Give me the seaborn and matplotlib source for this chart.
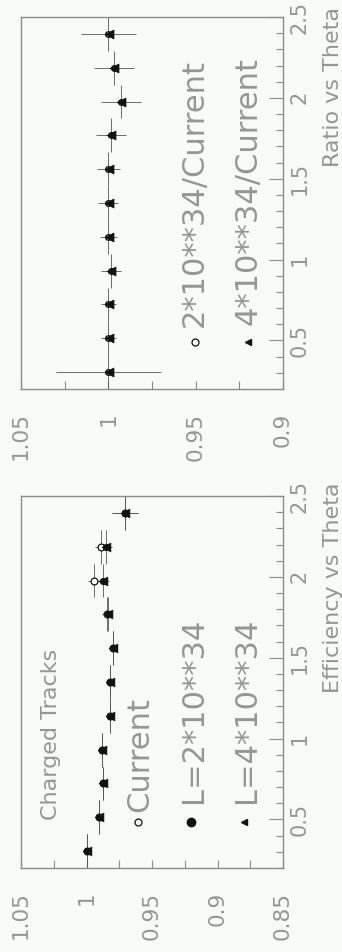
import numpy as np
import pandas as pd
import matplotlib
matplotlib.use("Agg")
import matplotlib.pyplot as plt
import seaborn as sns
from matplotlib.ticker import MultipleLocator

# ---------------- data ----------------
theta = [0.305, 0.514, 0.723, 0.932, 1.141, 1.350, 1.559, 1.768, 1.977, 2.186, 2.395]
theta_half = [0.1045] * 11

eff_current = [0.9996, 0.9905, 0.9874, 0.9880, 0.9820, 0.9820, 0.9798, 0.9845, 0.9943, 0.9890, 0.9706]
eff_L2 = [0.9996, 0.9905, 0.9874, 0.9878, 0.9820, 0.9820, 0.9798, 0.9836, 0.9874, 0.9852, 0.9706]
eff_L4 = [0.9996, 0.9904, 0.9873, 0.9878, 0.9819, 0.9819, 0.9797, 0.9835, 0.9872, 0.9850, 0.9705]
eff_err = [0.0030, 0.0025, 0.0025, 0.0025, 0.0025, 0.0025, 0.0030, 0.0035, 0.0045, 0.0045, 0.0100]

ratio_2 = [1.0000, 1.0000, 1.0000, 0.9985, 1.0000, 1.0000, 1.0000, 0.9985, 0.9928, 0.9968, 1.0000]
ratio_4 = [0.9998, 0.9999, 0.9999, 0.9984, 0.9999, 0.9999, 0.9999, 0.9984, 0.9927, 0.9967, 0.9999]
ratio_err = [0.0300, 0.0042, 0.0043, 0.0057, 0.0050, 0.0057, 0.0067, 0.0086, 0.0115, 0.0115, 0.0157]

theta_ticks = [0.5, 1.0, 1.5, 2.0, 2.5]
theta_labels = ["0.5", "1", "1.5", "2", "2.5"]
eff_ticks = [1.05, 1.0, 0.95, 0.9, 0.85]
eff_labels = ["1.05", "1", "0.95", "0.9", "0.85"]
ratio_ticks = [1.05, 1.0, 0.95, 0.9]
ratio_labels = ["1.05", "1", "0.95", "0.9"]

eff_df = pd.DataFrame({"theta": theta, "Current": eff_current,
                       "L2": eff_L2, "L4": eff_L4})
ratio_df = pd.DataFrame({"theta": theta, "R2": ratio_2, "R4": ratio_4})

# ---------------- style ----------------
sns.set_theme(style="white")
plt.rcParams["font.family"] = ["DejaVu Sans"]
BG = "#f7faf6"
GREY = "#8c8c8c"
TXT = "#959595"
INK = "#111111"
ERR = "#555555"

fig = plt.figure(figsize=(3.42, 9.52), dpi=100, facecolor=BG)
W, H = 342.0, 952.0
ax_r = fig.add_axes([21 / W, 1 - 389 / H, 262 / W, 372 / H])
ax_e = fig.add_axes([21 / W, 1 - 868 / H, 262 / W, 372 / H])


def style_axes(ax, xlim, xt, xl):
    ax.set_facecolor(BG)
    for s in ax.spines.values():
        s.set_color(GREY)
        s.set_linewidth(1.0)
    ax.set_xlim(*xlim)
    ax.set_ylim(0.2, 2.5)
    ax.yaxis.tick_right()
    ax.set_yticks(theta_ticks, theta_labels, rotation=90, va="center", ha="left")
    ax.yaxis.set_minor_locator(MultipleLocator(0.1))
    ax.set_xticks(xt, xl, rotation=90, ha="center", va="top")
    ax.xaxis.set_minor_locator(MultipleLocator(0.025))
    ax.tick_params(axis="y", which="major", direction="in", length=10, width=0.8,
                   color=GREY, right=True, left=False, labelright=True,
                   labelleft=False, pad=5, labelsize=15, labelcolor=TXT)
    ax.tick_params(axis="y", which="minor", direction="in", length=5, width=0.8,
                   color=GREY, right=True, left=False)
    ax.tick_params(axis="x", which="both", direction="in", length=6, width=0.8,
                   color=GREY, bottom=True, top=False)
    ax.tick_params(axis="x", which="major", pad=17, labelsize=15.5, labelcolor=TXT)
    ax.set_xlabel("")
    ax.set_ylabel("")


# ---------------- ratio panel ----------------
style_axes(ax_r, (1.05, 0.9), ratio_ticks, ratio_labels)
ax_r.errorbar(ratio_df["R2"], ratio_df["theta"], xerr=ratio_err, yerr=theta_half,
              fmt="none", ecolor=ERR, elinewidth=0.6, capsize=0)
sns.scatterplot(data=ratio_df, x="R2", y="theta", ax=ax_r, marker="o", s=16,
                facecolor="white", edgecolor=INK, linewidth=1.0, zorder=3)
sns.scatterplot(data=ratio_df, x="R4", y="theta", ax=ax_r, marker="<", s=42,
                color=INK, edgecolor=INK, linewidth=0.5, zorder=4)
ax_r.set_xlabel("")
ax_r.set_ylabel("")

ax_r.plot([0.664], [0.126], marker="o", ms=5, mfc="white", mec=INK, mew=0.9,
          transform=ax_r.transAxes, clip_on=False)
ax_r.plot([0.866], [0.126], marker="<", ms=5, color=INK,
          transform=ax_r.transAxes, clip_on=False)
ax_r.text(0.695, 0.166, "2*10**34/Current", rotation=90, rotation_mode="anchor",
          ha="left", va="baseline", fontsize=22, color=TXT, transform=ax_r.transAxes)
ax_r.text(0.901, 0.171, "4*10**34/Current", rotation=90, rotation_mode="anchor",
          ha="left", va="baseline", fontsize=22, color=TXT, transform=ax_r.transAxes)
ax_r.text(1.19, 1.027, "Ratio vs Theta", rotation=90, ha="center", va="top",
          fontsize=16, color=TXT, transform=ax_r.transAxes, clip_on=False)

# ---------------- efficiency panel ----------------
style_axes(ax_e, (1.05, 0.85), eff_ticks, eff_labels)
ax_e.errorbar(eff_df["Current"], eff_df["theta"], xerr=eff_err, yerr=theta_half,
              fmt="none", ecolor=ERR, elinewidth=0.6, capsize=0)
ax_e.errorbar(eff_df["L2"], eff_df["theta"], xerr=eff_err, yerr=theta_half,
              fmt="none", ecolor=ERR, elinewidth=0.6, capsize=0)
sns.scatterplot(data=eff_df, x="Current", y="theta", ax=ax_e, marker="o", s=24,
                facecolor="white", edgecolor=INK, linewidth=0.9, zorder=3)
sns.scatterplot(data=eff_df, x="L2", y="theta", ax=ax_e, marker="o", s=22,
                color=INK, edgecolor=INK, linewidth=0.5, zorder=4)
sns.scatterplot(data=eff_df, x="L4", y="theta", ax=ax_e, marker="<", s=40,
                color=INK, edgecolor=INK, linewidth=0.5, zorder=5)
ax_e.set_xlabel("")
ax_e.set_ylabel("")

ax_e.text(0.137, 0.129, "Charged Tracks", rotation=90, rotation_mode="anchor",
          ha="left", va="baseline", fontsize=16, color=TXT, transform=ax_e.transAxes)
ax_e.plot([0.447], [0.124], marker="o", ms=5, mfc="white", mec=INK, mew=0.9,
          transform=ax_e.transAxes, clip_on=False)
ax_e.plot([0.649], [0.124], marker="o", ms=6, color=INK,
          transform=ax_e.transAxes, clip_on=False)
ax_e.plot([0.851], [0.124], marker="<", ms=5, color=INK,
          transform=ax_e.transAxes, clip_on=False)
ax_e.text(0.485, 0.150, "Current", rotation=90, rotation_mode="anchor",
          ha="left", va="baseline", fontsize=22, color=TXT, transform=ax_e.transAxes)
ax_e.text(0.691, 0.175, "L=2*10**34", rotation=90, rotation_mode="anchor",
          ha="left", va="baseline", fontsize=22, color=TXT, transform=ax_e.transAxes)
ax_e.text(0.893, 0.175, "L=4*10**34", rotation=90, rotation_mode="anchor",
          ha="left", va="baseline", fontsize=22, color=TXT, transform=ax_e.transAxes)
ax_e.text(1.19, 1.035, "Efficiency vs Theta", rotation=90, ha="center", va="top",
          fontsize=16, color=TXT, transform=ax_e.transAxes, clip_on=False)

fig.savefig("out.png", dpi=100, facecolor=BG)
